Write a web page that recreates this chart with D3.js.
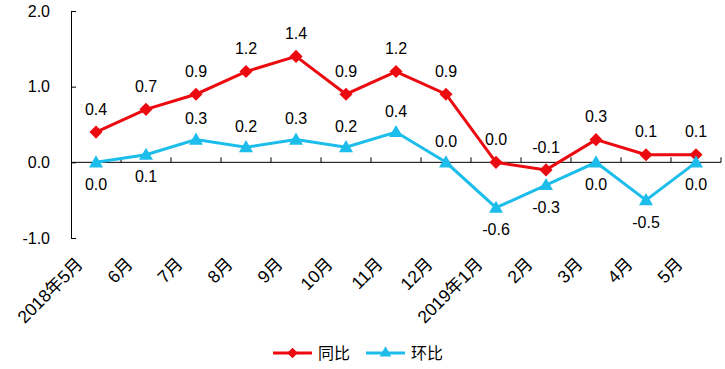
<!DOCTYPE html>
<html>
<head>
<meta charset="utf-8">
<script src="https://cdn.jsdelivr.net/npm/d3@7"></script>
<style>
  body { margin: 0; background: #fff; }
  text { font-family: "Liberation Sans", Arial, "Noto Sans CJK SC", sans-serif; fill: #000; }
</style>
</head>
<body>
<div id="chart"></div>
<script>
const months = ["2018年5月", "6月", "7月", "8月", "9月", "10月", "11月", "12月", "2019年1月", "2月", "3月", "4月", "5月"]
const yoy = [0.4, 0.7, 0.9, 1.2, 1.4, 0.9, 1.2, 0.9, 0.0, -0.1, 0.3, 0.1, 0.1]
const mom = [0.0, 0.1, 0.3, 0.2, 0.3, 0.2, 0.4, 0.0, -0.6, -0.3, 0.0, -0.5, 0.0]
const yTicks = [-1, 0, 1, 2]
// where the 环比 labels sit: t = above, b = below
const momLabelSide = ["b", "b", "t", "t", "t", "t", "t", "t", "b", "b", "b", "b", "b"]

const RED = "#EA0A0F"
const CYAN = "#1DBDEB"

var W = 725, H = 369
var svg = d3.select("#chart").append("svg").attr("width", W).attr("height", H)

var x = d3.scaleBand().domain(months).range([71, 721])
var y = d3.scaleLinear().domain([-1, 2]).range([238, 11])
var cx = d => x(d) + x.bandwidth() / 2

// y axis, ticks pointing inward
var yAxis = svg.append("g").attr("transform", "translate(71,0)")
    .call(d3.axisLeft(y).tickValues(yTicks).tickSize(-5).tickPadding(21).tickFormat(d => d.toFixed(1)))
yAxis.select(".domain").attr("stroke", "#000")
yAxis.selectAll(".tick line").attr("stroke", "#000")
yAxis.selectAll("text").style("font-size", "16px").attr("fill", "#000")

// x axis along zero, tick marks at band edges going up
var y0 = y(0)
svg.append("line").attr("x1", 71).attr("x2", 721).attr("y1", y0).attr("y2", y0).attr("stroke", "#000")
svg.append("g").selectAll("line").data(months).enter().append("line")
    .attr("x1", d => x(d) + x.bandwidth()).attr("x2", d => x(d) + x.bandwidth())
    .attr("y1", y0).attr("y2", y0 - 5).attr("stroke", "#000")

// category labels at the bottom, rotated
svg.append("g").selectAll("text").data(months).enter().append("text")
    .attr("transform", d => "translate(" + (cx(d) - 12) + ",265) rotate(-45)")
    .attr("text-anchor", "end")
    .style("font-size", "17.5px")
    .text(d => d)

var line = d3.line().x((d, i) => cx(months[i])).y(d => y(d))

// 同比
svg.append("path").datum(yoy).attr("d", line).attr("fill", "none").attr("stroke", RED).attr("stroke-width", 3)
svg.append("g").selectAll("path").data(yoy).enter().append("path")
    .attr("d", d3.symbol().type(d3.symbolDiamond2).size(110))
    .attr("transform", (d, i) => "translate(" + cx(months[i]) + "," + y(d) + ")")
    .attr("fill", RED)

// 环比
svg.append("path").datum(mom).attr("d", line).attr("fill", "none").attr("stroke", CYAN).attr("stroke-width", 3)
svg.append("g").selectAll("path").data(mom).enter().append("path")
    .attr("d", d3.symbol().type(d3.symbolTriangle).size(85))
    .attr("transform", (d, i) => "translate(" + cx(months[i]) + "," + (y(d) + 1) + ")")
    .attr("fill", CYAN)

// data labels
svg.append("g").selectAll("text").data(yoy).enter().append("text")
    .attr("x", (d, i) => cx(months[i]))
    .attr("y", d => y(d) - 23)
    .attr("dy", "0.35em")
    .attr("text-anchor", "middle")
    .style("font-size", "16px")
    .text(d => d.toFixed(1))

svg.append("g").selectAll("text").data(mom).enter().append("text")
    .attr("x", (d, i) => cx(months[i]))
    .attr("y", (d, i) => momLabelSide[i] == "t" ? y(d) - 21 : y(d) + 22)
    .attr("dy", "0.35em")
    .attr("text-anchor", "middle")
    .style("font-size", "16px")
    .text(d => d.toFixed(1))

// legend
var legend = svg.append("g").attr("transform", "translate(273,353)")
var items = [{name: "同比", color: RED, sym: d3.symbolDiamond2, size: 70}, {name: "环比", color: CYAN, sym: d3.symbolTriangle, size: 60}]
var li = legend.selectAll("g").data(items).enter().append("g").attr("transform", (d, i) => "translate(" + (i * 93) + ",0)")
li.append("line").attr("x1", 0).attr("x2", 39).attr("stroke", d => d.color).attr("stroke-width", 3)
li.append("path").attr("d", d => d3.symbol().type(d.sym).size(d.size)()).attr("transform", "translate(19.5,0)").attr("fill", d => d.color)
li.append("text").attr("x", 45).attr("dy", "0.35em").style("font-size", "16px").text(d => d.name)
</script>
</body>
</html>
